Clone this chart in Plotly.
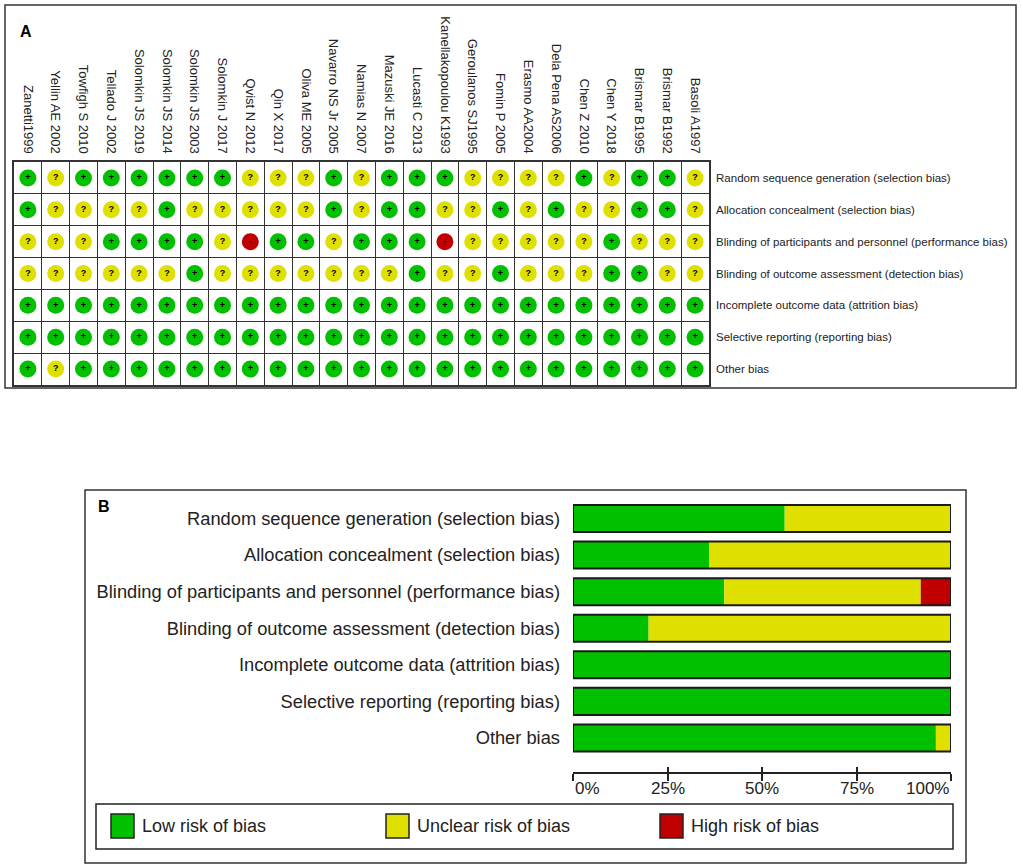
import plotly.graph_objects as go

W, H = 1021, 868
FONT = "Liberation Sans, Arial, sans-serif"

# studies (columns of panel A), left to right
studies = [
    "Zanetti1999", "Yellin AE 2002", "Towfigh S 2010", "Tellado J 2002",
    "Solomkin JS 2019", "Solomkin JS 2014", "Solomkin JS 2003", "Solomkin J 2017",
    "Qvist N 2012", "Qin X 2017", "Oliva ME 2005", "Navarro NS Jr 2005",
    "Namias N 2007", "Mazuski JE 2016", "Lucasti C 2013", "Kanellakopoulou K1993",
    "Geroulanos SJ1995", "Fomin P 2005", "Erasmo AA2004", "Dela Pena AS2006",
    "Chen Z 2010", "Chen Y 2018", "Brismar B1995", "Brismar B1992", "Basoli A1997",
]

domains = [
    "Random sequence generation (selection bias)",
    "Allocation concealment (selection bias)",
    "Blinding of participants and personnel (performance bias)",
    "Blinding of outcome assessment (detection bias)",
    "Incomplete outcome data (attrition bias)",
    "Selective reporting (reporting bias)",
    "Other bias",
]

# judgements per domain, one char per study: + low, ? unclear, - high
random_sequence = list("+?++++++???+?+++????+?++?")
allocation_concealment = list("+????+?????+?++??+?+??++?")
blinding_participants = list("???++++?-++?+++-?????+???")
blinding_outcome = list("??????+???????+??+???++??")
incomplete_data = list("+++++++++++++++++++++++++")
selective_reporting = list("+++++++++++++++++++++++++")
other_bias = list("+?+++++++++++++++++++++++")

levels = ["+", "?", "-"]
level_names = ["Low risk of bias", "Unclear risk of bias", "High risk of bias"]
level_colors = ["#00C000", "#E0E000", "#C00000"]

pct_ticks = [0, 25, 50, 75, 100]
pct_labels = ["0%", "25%", "50%", "75%", "100%"]

judgements = [random_sequence, allocation_concealment, blinding_participants,
              blinding_outcome, incomplete_data, selective_reporting, other_bias]


def px_x(p):
    return p / W


def px_y(p):
    return 1 - p / H


fig = go.Figure()

# ---- panel A: summary grid ----
for sym, name, color in zip(levels, level_names, level_colors):
    xs, ys = [], []
    for r, row in enumerate(judgements):
        for c, j in enumerate(row):
            if j == sym:
                xs.append(c)
                ys.append(r)
    fig.add_trace(go.Scatter(
        x=xs, y=ys, mode="markers+text",
        text=["<b>%s</b>" % sym] * len(xs),
        textposition="middle center",
        textfont=dict(size=9, color="black", family=FONT),
        marker=dict(size=17, color=color, line=dict(width=0)),
        showlegend=False, hoverinfo="skip",
        xaxis="x", yaxis="y",
    ))

# ---- panel B: percentage bars ----
n = len(studies)
low_pct = [row.count("+") / n * 100 for row in judgements]
unclear_pct = [row.count("?") / n * 100 for row in judgements]
high_pct = [row.count("-") / n * 100 for row in judgements]
rows = list(range(len(domains)))

bases = [
    [0] * len(rows),
    low_pct,
    [l + u for l, u in zip(low_pct, unclear_pct)],
]
for vals, base, color in zip([low_pct, unclear_pct, high_pct], bases, level_colors):
    fig.add_trace(go.Bar(
        y=rows, x=vals, base=base, orientation="h", width=0.74,
        marker=dict(color=color, line=dict(width=0)),
        showlegend=False, hoverinfo="skip", xaxis="x2", yaxis="y2",
    ))

# outline around each full bar
totals = [l + u + h for l, u, h in zip(low_pct, unclear_pct, high_pct)]
fig.add_trace(go.Bar(
    y=rows, x=totals, base=[0] * len(rows), orientation="h", width=0.74,
    marker=dict(color="rgba(0,0,0,0)", line=dict(color="#1a1a1a", width=2)),
    showlegend=False, hoverinfo="skip", xaxis="x3", yaxis="y2",
))

grid_minor = dict(tickmode="linear", tick0=0.5, dtick=1, showgrid=True,
                  gridcolor="#333333", gridwidth=1, ticks="")

fig.update_layout(
    width=W, height=H,
    margin=dict(l=0, r=0, t=0, b=0),
    paper_bgcolor="white", plot_bgcolor="white",
    barmode="overlay",
    font=dict(family=FONT, color="#222222"),
    xaxis=dict(
        domain=[px_x(14), px_x(709)], range=[-0.5, len(studies) - 0.5],
        side="top", tickmode="array", tickvals=list(range(len(studies))),
        ticktext=studies, tickangle=90, ticks="", showgrid=False, zeroline=False,
        showline=True, mirror=True, linecolor="#333333", linewidth=1.5,
        minor=grid_minor, tickfont=dict(size=13), anchor="y", fixedrange=True,
        ticklabelstandoff=2,
    ),
    yaxis=dict(
        domain=[px_y(385), px_y(162)], range=[len(domains) - 0.5, -0.5],
        side="right", tickmode="array", tickvals=rows, ticktext=domains,
        ticks="", showgrid=False, zeroline=False,
        showline=True, mirror=True, linecolor="#333333", linewidth=1.5,
        minor=grid_minor, tickfont=dict(size=11.5), anchor="x", fixedrange=True,
        ticklabelstandoff=3,
    ),
    xaxis2=dict(
        domain=[px_x(573), px_x(951)], range=[0, 100], anchor="y2",
        showline=True, linecolor="#222222", linewidth=1.5,
        ticks="outside", ticklen=7, tickwidth=1.5, tickcolor="#222222",
        tickmode="array", tickvals=pct_ticks, showticklabels=False,
        showgrid=False, zeroline=False, fixedrange=True,
    ),
    xaxis3=dict(
        overlaying="x2", anchor="y2", side="bottom", range=[0, 100],
        ticks="inside", ticklen=5, tickwidth=1.5, tickcolor="#222222",
        tickmode="array", tickvals=pct_ticks, showticklabels=False,
        showgrid=False, zeroline=False, showline=False, fixedrange=True,
    ),
    yaxis2=dict(
        domain=[px_y(772), px_y(500)], range=[6.93, -0.506], anchor="x2",
        tickmode="array", tickvals=rows, ticktext=domains, ticks="",
        showgrid=False, zeroline=False, showline=False,
        tickfont=dict(size=18.3), ticklabelstandoff=12, fixedrange=True,
    ),
)

# percentage tick labels
for v, lab in zip(pct_ticks, pct_labels):
    anchor = "left" if v == pct_ticks[0] else ("right" if v == pct_ticks[-1] else "center")
    fig.add_annotation(x=v, y=px_y(788), xref="x2", yref="paper", text=lab,
                       showarrow=False, xanchor=anchor, yanchor="middle",
                       font=dict(size=17, color="#222222"))

# panel frames
fig.add_shape(type="rect", xref="paper", yref="paper",
              x0=px_x(5), x1=px_x(1016), y0=px_y(388), y1=px_y(5),
              line=dict(color="#333333", width=1.5))
fig.add_shape(type="rect", xref="paper", yref="paper",
              x0=px_x(85), x1=px_x(966), y0=px_y(863), y1=px_y(490),
              line=dict(color="#333333", width=1.5))

# panel letters
fig.add_annotation(x=px_x(17.5), y=px_y(21.5), xref="paper", yref="paper",
                   text="<b>A</b>", showarrow=False, font=dict(size=16, color="black"))
fig.add_annotation(x=px_x(95.5), y=px_y(506.5), xref="paper", yref="paper",
                   text="<b>B</b>", showarrow=False, font=dict(size=16, color="black"))

# legend box for panel B
fig.add_shape(type="rect", xref="paper", yref="paper",
              x0=px_x(96), x1=px_x(953), y0=px_y(849), y1=px_y(804),
              line=dict(color="#222222", width=1.5))
legend_x = [111, 386, 660]
for lx, name, color in zip(legend_x, level_names, level_colors):
    fig.add_shape(type="rect", xref="paper", yref="paper",
                  x0=px_x(lx), x1=px_x(lx + 23), y0=px_y(838), y1=px_y(814),
                  fillcolor=color, line=dict(color="#222222", width=1.5))
    fig.add_annotation(x=px_x(lx + 29), y=px_y(826), xref="paper", yref="paper",
                       text=name, showarrow=False, xanchor="left", yanchor="middle",
                       font=dict(size=18, color="#222222"))

# page has a default body margin; remove it so the figure fills the window
fig.write_html(
    "out.html",
    config={"displayModeBar": False},
    post_script="document.body.style.margin='0';document.body.style.overflow='hidden';",
)
